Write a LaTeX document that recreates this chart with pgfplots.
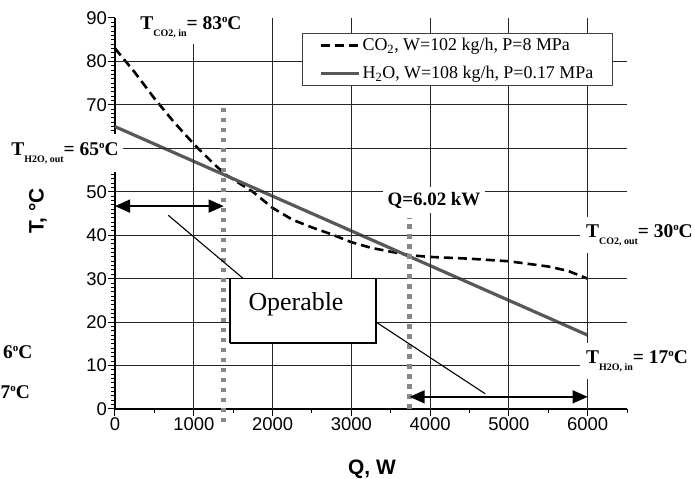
\documentclass[border=0pt]{standalone}
\usepackage{fontspec}
\setmainfont{Liberation Serif}
\setsansfont{Liberation Sans}
\usepackage{pgfplots}
\pgfplotsset{compat=1.18}
\usetikzlibrary{arrows.meta}
\definecolor{h2o}{RGB}{88,88,88}
\definecolor{dotg}{RGB}{135,135,135}
\newcommand{\lab}[2]{\textbf{T\raisebox{-7bp}{\fontsize{10}{11}\selectfont #1}= #2\raisebox{7bp}{\fontsize{11}{11}\selectfont o}C}}
\begin{document}
\begin{tikzpicture}[x=1bp,y=1bp]
\begin{axis}[
  at={(0,0)}, anchor=origin,
  scale only axis, width=512bp, height=391bp,
  xmin=0, xmax=6500, ymin=0, ymax=90,
  axis lines*=left,
  clip=false,
  xtick={0,1000,...,6000}, ytick={0,10,...,90},
  yticklabels={0,10,20,30,40,50,,70,80,90},
  minor xtick={500,1500,...,6500},
  minor ytick={1,2,...,89},
  tick align=outside,
  major tick length=7bp, minor tick length=4bp,
  axis line style={black, line width=1.2bp},
  every tick/.style={black, line width=1bp},
  /pgf/number format/assume math mode=true,
  /pgf/number format/set thousands separator={},
  tick label style={font=\sffamily\fontsize{18.5}{20}\selectfont},
  yticklabel style={inner sep=1bp},
  xticklabel style={inner sep=1bp},
  legend style={at={(0.365,0.962)}, anchor=north west, draw=black!75, line width=1bp,
    fill=white, font=\fontsize{18}{20}\selectfont, inner xsep=17bp, inner ysep=3bp,
    row sep=10bp, /tikz/every even column/.append style={column sep=3bp}},
  legend cell align=left,
  legend image code/.code={\draw[#1] (0bp,0bp) -- (38bp,0bp);},
]
\addplot[black, line width=2.6bp, dash pattern=on 9bp off 5bp] coordinates {
 (0,83) (250,77.5) (500,71.5) (750,66) (1000,61) (1250,56.5) (1400,54)
 (1750,50) (2000,46.3) (2250,43.6) (2500,41.8) (2750,40.2) (3000,38.4)
 (3250,37.1) (3500,36.2) (3740,35.4) (4000,35) (4500,34.6) (5000,34)
 (5500,32.8) (5750,31.8) (6000,30)};
\addlegendentry{CO\textsubscript{2}, W=102 kg/h, P=8 MPa}
\addplot[h2o, line width=3.2bp] coordinates {(0,65) (6000,17)};
\addlegendentry{H\textsubscript{2}O, W=108 kg/h, P=0.17 MPa}
% grid
\pgfplotsinvokeforeach{1000,2000,3000,4000,5000,6000}{
  \draw[black!85, line width=0.9bp] (axis cs:#1,0) -- (axis cs:#1,90);}
\pgfplotsinvokeforeach{10,20,30,40,50,60,70,80}{
  \draw[black!85, line width=0.9bp] (axis cs:0,#1) -- (axis cs:6500,#1);}
\addplot[forget plot, dotg, line width=4.5bp, dash pattern=on 4.5bp off 5.5bp] coordinates {(1380,-3) (1380,70)};
\addplot[forget plot, dotg, line width=4.5bp, dash pattern=on 4.5bp off 5.5bp] coordinates {(3740,0) (3740,44)};
\addplot[forget plot, black, line width=1.5bp, {Triangle[length=15bp,width=13bp]}-{Triangle[length=15bp,width=13bp]}] coordinates {(0,46.7) (1380,46.7)};
\addplot[forget plot, black, line width=1.5bp, {Triangle[length=15bp,width=13bp]}-{Triangle[length=15bp,width=13bp]}] coordinates {(3740,2.8) (6000,2.8)};
\addplot[forget plot, black, line width=1.1bp] coordinates {(675,44.6) (1630,30)};
\addplot[forget plot, black, line width=1.1bp] coordinates {(3315,20) (4700,3.5)};
\addplot[forget plot, black, line width=1.5bp, fill=white] coordinates {(1460,15.2) (3315,15.2) (3315,30) (1460,30) (1460,15.2)};
\end{axis}
\node[font=\fontsize{26}{28}\selectfont] at (181,105) {Operable};
\node[fill=white, inner xsep=4bp, inner ysep=6bp] at (76,382) {\fontsize{19.5}{22}\selectfont\lab{CO2, in}{83}};
\node[fill=white, inner xsep=4bp, inner ysep=8bp] at (-50,256) {\fontsize{19.5}{22}\selectfont\lab{H2O, out}{65}};
\node[fill=white, inner xsep=5bp, inner ysep=5bp, font=\bfseries\fontsize{19}{22}\selectfont] at (319,209) {Q=6.02 kW};
\node[fill=white, anchor=west, inner xsep=6bp, inner ysep=7bp] at (465,174) {\fontsize{19.5}{22}\selectfont\lab{CO2, out}{30}};
\node[fill=white, anchor=west, inner xsep=6bp, inner ysep=7bp] at (465,48) {\fontsize{19.5}{22}\selectfont\lab{H2O, in}{17}};
\node[anchor=west, font=\bfseries\fontsize{19.5}{22}\selectfont, inner sep=0pt] at (-112,57) {6\raisebox{7bp}{\fontsize{11}{11}\selectfont o}C};
\node[anchor=west, font=\bfseries\fontsize{19.5}{22}\selectfont, inner sep=0pt] at (-114.5,17) {7\raisebox{7bp}{\fontsize{11}{11}\selectfont o}C};
\node[rotate=90, font=\sffamily\bfseries\fontsize{21}{24}\selectfont] at (-77,198) {T, °C};
\node[font=\sffamily\bfseries\fontsize{21}{24}\selectfont] at (257,-60) {Q, W};
\pgfresetboundingbox
\path[use as bounding box] (-115,-70) rectangle (580,409);
\end{tikzpicture}
\end{document}
